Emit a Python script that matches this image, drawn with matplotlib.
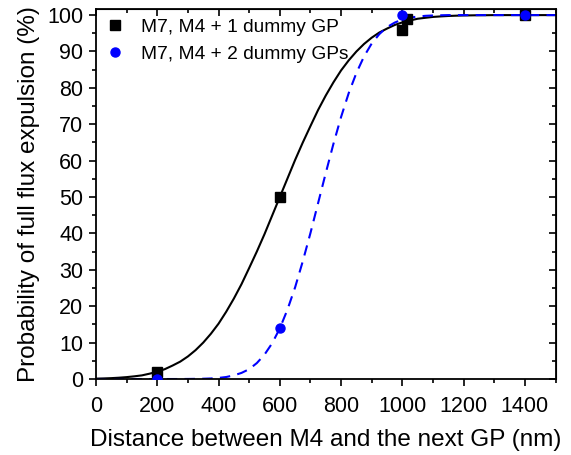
import matplotlib
matplotlib.use("Agg")
import matplotlib.pyplot as plt
from matplotlib.ticker import MultipleLocator

plt.rcParams['font.family'] = ['Liberation Sans', 'DejaVu Sans']

# measured points
x_one = [200, 600, 1000, 1015, 1400]
y_one = [2, 50, 96, 99, 100]
x_two = [200, 600, 1000, 1400]
y_two = [0, 14, 100, 100]

# fitted curves, every 25 nm
x_fit = [0, 25, 50, 75, 100, 125, 150, 175, 200, 225, 250, 275, 300, 325,
         350, 375, 400, 425, 450, 475, 500, 525, 550, 575, 600, 625, 650,
         675, 700, 725, 750, 775, 800, 825, 850, 875, 900, 925, 950, 975,
         1000, 1025, 1050, 1075, 1100, 1125, 1150, 1175, 1200, 1225, 1250,
         1275, 1300, 1400, 1500]
fit_one = [0.1, 0.16, 0.24, 0.36, 0.52, 0.74, 1.0, 1.47, 2.0, 2.72, 3.7,
           4.78, 6.2, 7.93, 10.0, 12.43, 15.2, 18.48, 22.1, 26.07, 30.5,
           35.02, 39.8, 44.9, 50.0, 55.1, 60.2, 64.98, 69.5, 73.93, 77.9,
           81.52, 84.8, 87.57, 90.0, 92.07, 93.8, 95.22, 96.3, 97.28, 98.0,
           98.53, 99.0, 99.26, 99.5, 99.64, 99.76, 99.84, 99.9, 99.93, 99.96,
           99.97, 100, 100, 100]
fit_two = [0, 0, 0, 0, 0, 0, 0, 0, 0, 0, 0, 0, 0.02, 0.04, 0.08, 0.15, 0.3,
           0.55, 1.0, 1.68, 2.7, 4.38, 6.7, 9.82, 13.9, 19.08, 25.2, 32.35,
           40.1, 48.34, 56.6, 64.6, 72.0, 78.58, 84.1, 88.65, 92.2, 94.79,
           96.7, 97.94, 98.8, 99.3, 99.6, 99.8, 99.9, 99.95, 100, 100, 100,
           100, 100, 100, 100, 100, 100]

fig = plt.figure(figsize=(5.71, 4.55), dpi=100)
ax = fig.add_axes([0.1681, 0.167, 0.9729 - 0.1681, 0.980 - 0.167])

ax.plot(x_fit, fit_one, color='black', lw=1.5, zorder=2)
ax.plot(x_fit, fit_two, color='blue', lw=1.5, ls=(0, (5, 3.5)), zorder=2)
ax.plot(x_one, y_one, 's', color='black', ms=6.5, ls='none',
        label='M7, M4 + 1 dummy GP', zorder=3)
ax.plot(x_two, y_two, 'o', color='blue', ms=6.5, ls='none',
        label='M7, M4 + 2 dummy GPs', zorder=3)

ax.set_xlim(0, 1500)
ax.set_ylim(0, 101.65)
ax.xaxis.set_major_locator(MultipleLocator(200))
ax.xaxis.set_minor_locator(MultipleLocator(100))
ax.yaxis.set_major_locator(MultipleLocator(10))
ax.yaxis.set_minor_locator(MultipleLocator(5))

for s in ax.spines.values():
    s.set_linewidth(1.3)
ax.tick_params(which='both', direction='out', width=1.2, labelsize=15.5,
               top=False, right=False)
ax.tick_params(which='major', length=5, pad=4)
ax.tick_params(axis='x', which='major', pad=7)
ax.tick_params(which='minor', length=3)

# inward ticks on top and right
axt = ax.secondary_xaxis('top')
axt.xaxis.set_major_locator(MultipleLocator(200))
axt.xaxis.set_minor_locator(MultipleLocator(100))
axt.tick_params(which='both', direction='in', width=1.2, labeltop=False)
axt.tick_params(which='major', length=5)
axt.tick_params(which='minor', length=3)
axr = ax.secondary_yaxis('right')
axr.yaxis.set_major_locator(MultipleLocator(10))
axr.yaxis.set_minor_locator(MultipleLocator(5))
axr.tick_params(which='both', direction='in', width=1.2, labelright=False)
axr.tick_params(which='major', length=5)
axr.tick_params(which='minor', length=3)

ax.set_xlabel('Distance between M4 and the next GP (nm)', fontsize=17.5,
              labelpad=9)
ax.set_ylabel('Probability of full flux expulsion (%)', fontsize=17.5,
              labelpad=5)

ax.legend(loc='upper left', frameon=False, fontsize=13.8, handlelength=1.0,
          handletextpad=0.85, borderaxespad=0.3, labelspacing=0.5,
          borderpad=0.2)

fig.savefig('out.png', dpi=100)
